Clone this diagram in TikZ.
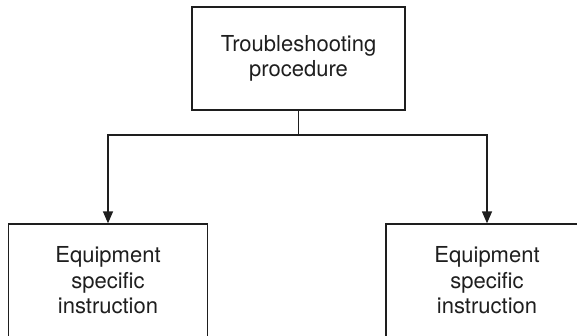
\documentclass[tikz,border=0pt]{standalone}
\usepackage{fontspec}
\setmainfont{TeX Gyre Heros}
\usetikzlibrary{arrows.meta}
\definecolor{ink}{HTML}{1E1E1E}
\begin{document}
\begin{tikzpicture}[x=1pt,y=-1pt,
  box/.style={draw=ink, line width=1.3pt, align=center, inner sep=0pt,
    text=ink, font=\fontsize{22}{25.5}\selectfont},
  link/.style={draw=ink, line width=1.3pt},
  tip/.style={-{Triangle[width=10pt,length=12pt]}}]
\useasboundingbox (0,0) rectangle (577,335);
\clip (0,0) rectangle (577,335);
% procedure box and the two instruction boxes
\node[box, minimum width=213pt, minimum height=103pt] (proc) at (298.5,58.5)
  {Troubleshooting\\procedure};
\node[box, minimum width=199pt, minimum height=113pt] (left) at (108,280.5)
  {Equipment\\specific\\instruction};
\node[box, minimum width=202pt, minimum height=113pt] (right) at (487,280.5)
  {Equipment\\specific\\instruction};
% branching connector
\coordinate (split) at (proc.south |- 0,135);
\draw[link] (proc.south) -- (split);
\draw[link, tip] (split) -| (left.north);
\draw[link, tip] (split) -| (right.north);
\end{tikzpicture}
\end{document}
